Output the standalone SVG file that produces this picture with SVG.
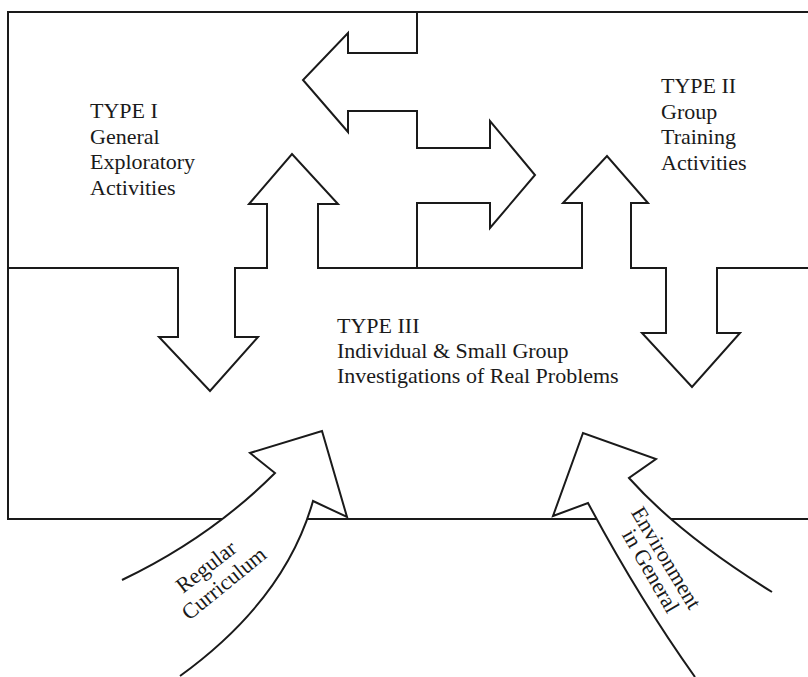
<svg xmlns="http://www.w3.org/2000/svg" width="808" height="677" viewBox="0 0 808 677">
<style>
.ln{fill:none;stroke:#1a1a1a;stroke-width:2;stroke-linejoin:miter}
.ar{fill:#fff;stroke:#1a1a1a;stroke-width:2;stroke-linejoin:miter}
.t{font-family:"Liberation Serif","Times New Roman",serif;font-size:22px;fill:#1a1a1a}
</style>
<rect width="808" height="677" fill="#fff"/>
<g id="frame">
<path class="ln" d="M808,12 H8 V519 H808"/>
</g>
<g id="connectors">
<path id="double-arrows" class="ln" d="M8,268 H178 V337 H159 L210,391 L258,337 H235 V268 H267 V204 H249 L292,154 L338,204 H318 V268 H582 V203 H563 L607,156 L648,203 H631 V268 H666 V333 H642 L692,387 L740,333 H717 V268 H808"/>
<path id="zigzag-arrows" class="ln" d="M417,12 V53 H348 V33 L303,80 L348,132 V111 H417 V148 H490 V121 L535,175 L490,228 V203 H417 V268"/>
<path id="curriculum-arrow" class="ar" d="M122,580 Q210,538 275,473 L250,453 L322,431 L347,517 L313,501 Q285,600 180,676"/>
<path id="environment-arrow" class="ar" d="M772,592 Q680,535 629,478 L656,459 L583,433 L553,516 L588,503 Q640,600 695,677"/>
</g>
<g id="type-i">
<text class="t" x="90" y="118">TYPE I</text>
<text class="t" x="90" y="143.7">General</text>
<text class="t" x="90" y="169.3">Exploratory</text>
<text class="t" x="90" y="195">Activities</text>
</g>
<g id="type-ii">
<text class="t" x="661" y="93">TYPE II</text>
<text class="t" x="661" y="118.5">Group</text>
<text class="t" x="661" y="144">Training</text>
<text class="t" x="661" y="170">Activities</text>
</g>
<g id="type-iii">
<text class="t" x="337" y="333">TYPE III</text>
<text class="t" x="337" y="358">Individual &amp; Small Group</text>
<text class="t" x="337" y="383">Investigations of Real Problems</text>
</g>
<g id="curriculum-label">
<text class="t" text-anchor="middle" x="210.5" y="572.5" transform="rotate(-38 210.5 572.5)">Regular</text>
<text class="t" text-anchor="middle" x="228.5" y="589" transform="rotate(-39 228.5 589)">Curriculum</text>
</g>
<g id="environment-label">
<text class="t" text-anchor="middle" x="660" y="561.5" transform="rotate(59 660 561.5)">Environment</text>
<text class="t" text-anchor="middle" x="644.5" y="574.5" transform="rotate(60 644.5 574.5)">in General</text>
</g>
</svg>
